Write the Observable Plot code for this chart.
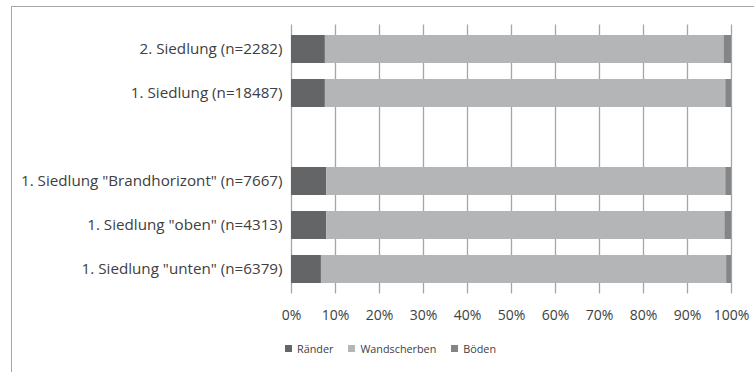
<!DOCTYPE html>
<html>
<head>
<meta charset="utf-8">
<script src="https://cdn.jsdelivr.net/npm/d3@7"></script>
<script src="https://cdn.jsdelivr.net/npm/@observablehq/plot@0.6"></script>
<style>
  html, body { margin: 0; padding: 0; background: #fff; }
  #wrap { position: relative; width: 754px; height: 372px; overflow: hidden; font-family: "Open Sans", Lato, sans-serif; color: #404040; }
  #frame { position: absolute; left: 11px; top: 6px; width: 800px; height: 400px; border-left: 1px solid #a6a6a6; border-top: 1px solid #a6a6a6; box-sizing: border-box; }
  #chart { position: absolute; left: 0; top: 0; }
  #legend { position: absolute; left: 285px; top: 341px; display: flex; align-items: center; font-size: 10.8px; }
  .item { display: flex; align-items: center; margin-right: 15px; }
  .sw { width: 7px; height: 7px; margin-right: 5px; }
</style>
</head>
<body>
<div id="wrap">
  <div id="frame"></div>
  <div id="chart"></div>
  <div id="legend"></div>
</div>
<script>
const categories = [
  "2. Siedlung (n=2282)",
  "1. Siedlung (n=18487)",
  "",
  "1. Siedlung \"Brandhorizont\" (n=7667)",
  "1. Siedlung \"oben\" (n=4313)",
  "1. Siedlung \"unten\" (n=6379)"
];
const seriesNames = ["Ränder", "Wandscherben", "Böden"];
const raender      = [7.7, 7.7, null, 8.0, 8.0, 6.8];
const wandscherben = [90.6, 91.0, null, 90.7, 90.5, 92.1];
const boeden       = [1.7, 1.3, null, 1.3, 1.5, 1.1];
const seriesColors = ["#646567", "#b4b5b7", "#848587"];
const xTicks = [0, 10, 20, 30, 40, 50, 60, 70, 80, 90, 100];

const seriesValues = [raender, wandscherben, boeden];
const data = [];
categories.forEach((c, i) => {
  seriesValues.forEach((vals, s) => {
    if (vals[i] != null) data.push({cat: c, series: seriesNames[s], value: vals[i]});
  });
});

const chart = Plot.plot({
  width: 754,
  height: 336,
  marginLeft: 291,
  marginRight: 23,
  marginTop: 24.5,
  marginBottom: 42.5,
  style: {fontFamily: "'Open Sans', Lato, sans-serif", fontSize: "14px", color: "#404040", background: "transparent"},
  x: {domain: [0, 100], ticks: xTicks, tickFormat: d => d + "%", tickSize: 0, tickPadding: 16, label: null},
  y: {domain: categories, paddingInner: 0.375, paddingOuter: 0.1875, tickSize: 0, tickPadding: 9, label: null},
  color: {domain: seriesNames, range: seriesColors},
  marks: [
    Plot.ruleX(xTicks, {stroke: "#a6a6a6", strokeWidth: 1.3}),
    Plot.barX(data, Plot.stackX({y: "cat", x: "value", fill: "series", order: seriesNames})),
    Plot.axisX({ticks: xTicks, tickFormat: d => d + "%", tickSize: 0, tickPadding: 16, fontSize: 14}),
    Plot.axisY({tickSize: 0, tickPadding: 9, fontSize: 15.2})
  ]
});
document.getElementById("chart").appendChild(chart);

const legend = document.getElementById("legend");
seriesNames.forEach((n, i) => {
  const it = document.createElement("div");
  it.className = "item";
  const sw = document.createElement("div");
  sw.className = "sw";
  sw.style.background = seriesColors[i];
  const t = document.createElement("span");
  t.textContent = n;
  it.appendChild(sw); it.appendChild(t);
  legend.appendChild(it);
});
</script>
</body>
</html>
